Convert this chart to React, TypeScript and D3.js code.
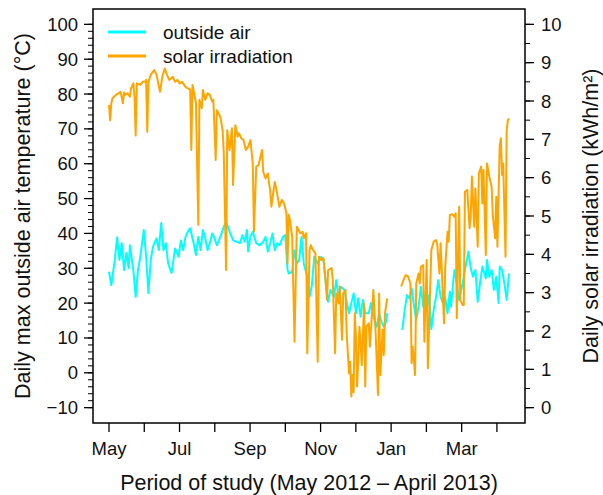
import React from "react";
import * as d3 from "d3";

// Month labels (study runs May 2012 – April 2013); only every second one is printed
const monthNames = ["May", "Jun", "Jul", "Aug", "Sep", "Oct", "Nov", "Dec", "Jan", "Feb", "Mar", "Apr"];
const tempTicks = [-10, 0, 10, 20, 30, 40, 50, 60, 70, 80, 90, 100];
const solarTicks = [0, 1, 2, 3, 4, 5, 6, 7, 8, 9, 10];

// Daily max outside air temperature (°C), day index from 1 May 2012
const tempDays = [
  0, 2, 5, 7, 9, 11, 13, 15, 17, 18, 21, 23, 25, 27, 30, 32, 34, 36, 38, 41, 43, 45, 47, 49, 51, 54, 57, 60, 62, 64,
  66, 68, 70, 73, 75, 77, 79, 81, 83, 85, 87, 89, 91, 93, 96, 99, 101, 104, 107, 110, 113, 115, 117, 119, 120, 122,
  124, 127, 130, 133, 135, 137, 139, 141, 143, 145, 147, 150, 152, 154, 155, 158, 160, 162, 164, 166, 168, 171, 173,
  175, 177, 180, 183, 185, 187, 189, 191, 194, 196, 198, 200, 203, 205, 207, 209, 211, 213, 215, 217, 219, 221, 224,
  226, 228, 231, 233, 235, 237, 239, 240,
  253, 255, 257, 259, 261, 263, 265, 267, 269, 271, 274, 276, 278, 280, 282, 284, 286, 288, 290, 292, 294, 295, 297,
  298, 300, 302, 305, 307, 310, 312, 314, 316, 318, 320, 322, 325, 326, 328, 330, 332, 334, 336, 337, 339, 341, 343, 345,
];
const tempValues = [
  29, 25.2, 32.4, 38.9, 32.4, 37.2, 29.5, 34.4, 30, 36.6, 29.5, 21.8, 29.5, 33.3, 41, 33.3, 22.9, 32.4, 36.2, 38.6,
  35.2, 43, 35.2, 37.2, 31.4, 28.7, 35.7, 33.3, 38, 35.2,
  39, 40.5, 41.5, 37.2, 33.8, 39, 35.2, 41, 38.6, 35.2, 37.2, 40, 38.6, 36.6, 39, 41.9, 43.4, 40.5, 38.1, 37.6, 37.2,
  39.5, 37.6, 41, 34.8, 39,
  40.5, 37.2, 36.6, 37.6, 39, 34.8, 37.2, 40, 35.2, 37.2, 36.6, 39, 39.5, 29.5, 28.5, 29, 35.2, 31.4, 32.4, 39, 31.4,
  27.6, 21.8,
  25.2, 33.3, 31.4, 33.3, 32.4, 25.7, 20.4, 23.8, 21.8, 26.6, 21.8, 24.7, 23.8, 20.4, 17.1, 20, 22.8, 17.1, 21.4, 16.1,
  20.9, 17.1, 17.1,
  20, 16.1, 13.2, 17.1, 14.7, 13.2, 14.7, 17.1,
  12.3, 18, 22.3, 21.4, 24.2, 19.4, 15.1, 19, 24.7, 19, 18, 22.3, 12.6, 18, 21.6, 26.6, 21.8, 20, 21.4, 17.1, 23.3, 19,
  26.6,
  29.5, 25.7, 20.9, 25.7, 29.5, 34.8, 30, 27.6, 29.5, 20.4, 25.7, 30.5, 27.1, 32.4, 27.6, 29.5, 23.8, 27.6, 20, 30.5,
  29.5, 25.7, 20.9, 28.5,
];

// Daily solar irradiation (kWh/m²), same day index
const solarDays = [
  0, 1, 2, 3, 6, 8, 10, 12, 13, 14, 16, 18, 19, 21, 22, 23, 24, 27, 29, 31, 32, 33, 34, 36, 39, 41, 44, 46, 48, 50, 52,
  55, 57, 59, 61, 63, 66, 68, 70, 71, 72, 74, 75, 77, 78, 80, 81, 83, 85, 87, 89, 90, 92, 93, 96, 98, 99, 101, 102, 104,
  106, 107, 109, 111, 112, 114, 116, 118, 120, 122, 124, 125, 127, 129, 130, 132, 133, 135, 137, 138, 139, 140, 143, 145,
  147, 149, 151, 153, 154, 155, 156, 158, 160, 162, 165, 167, 168, 170, 171, 173, 174, 176, 178, 180, 181, 183, 185, 187,
  188, 189, 192, 193, 195, 196, 198, 199, 201, 202, 204, 205, 207, 208, 209, 210, 211, 212, 213, 214, 216, 217, 218,
  220, 221, 222, 224, 225, 227, 228, 230, 232, 233, 234, 236, 237, 238, 240,
  252, 254, 256, 258, 260, 261, 262, 264, 265, 267, 268, 269, 271, 272, 274, 275, 277, 278, 280, 282, 283, 285, 286, 289,
  290, 292, 293, 294, 296, 298, 299, 300, 302, 303, 305, 306, 307, 309, 311, 312, 313, 315, 316, 318, 319, 321, 322, 323,
  325, 326, 328, 330, 331, 333, 334, 335, 337, 338, 339, 340, 342, 343, 344, 345,
];
const solarValues = [
  7.9, 7.5, 7.94, 8.07, 8.16, 8.2, 8.24, 7.94, 8.22, 8.16, 8.2, 8.11, 8.33, 8.46, 8.11, 7.1, 8.46, 8.42, 8.5, 8.5, 8.55,
  7.2, 8.5, 8.68, 8.81, 8.68, 8.24, 8.63, 8.85, 8.68, 8.55,
  8.63, 8.5, 8.55, 8.46, 8.5, 8.37, 8.33, 8.3, 6.72, 8.42, 8.11, 7.94, 4.77, 8.03, 7.81, 8.29, 8.03, 8.2, 8.16, 7.98,
  8.03, 6.46, 7.76, 7.59, 7.24, 6.64, 3.59, 7.24, 6.72,
  7.29, 5.81, 7.37, 7.07, 7.16, 7.03, 6.98, 6.72, 6.81, 6.98, 6.37, 4.59, 6.29, 6.33, 6.46, 6.72, 6.16, 5.98, 6.11, 5.85,
  5.68, 5.24, 5.89, 5.59,
  5.24, 5.42, 5.33, 5.07, 3.77, 5.03, 4.9, 4.46, 1.72, 4.72, 4.55, 4.59, 4.42, 4.55, 1.42, 4.11, 4.24, 4.11, 4.03, 1.2,
  3.94, 3.85, 3.9, 3.24,
  2.81, 3.59, 3.64, 3.33, 1.42, 2.98, 2.72, 3.16, 1.77, 2.98, 3.07, 1.94, 0.9, 1.2, 0.29, 0.85, 0.4, 2.46, 1.85, 0.55,
  2.11, 1.68, 1.11,
  2.72, 0.55, 2.11, 2.2, 1.59, 2.55, 3.07, 1.94, 0.33, 2.98, 0.85, 2.03, 1.37, 2.46, 2.85,
  3.16, 3.33, 3.46, 3.42, 3.24, 1.16, 1.59, 0.85, 3.24, 3.5, 3.24, 3.68, 3.72, 1.72, 3.85, 1.03, 3.07, 4.11, 4.33, 4.37,
  4.29, 3.5, 4.29, 2.2,
  3.68, 4.59, 4.33, 5.03, 5.05, 4.98, 5.07, 2.33, 5.24, 2.81, 2.68, 2.68, 5.63, 5.68, 4.68, 4.98, 6.03, 4.72, 5.72, 4.2,
  6.11, 6.29, 5.33, 6.2,
  3.98, 6.37, 6.03, 5.76, 5.03, 4.42, 5.5, 4.2, 6.85, 7.03, 6.07, 6.37, 3.94, 7.24, 7.5, 7.55,
];

const W = 603;
const H = 495;
const FONT = "'Liberation Sans', Arial, Helvetica, sans-serif";
const TEMP_COLOR = "#00FFFF";
const SOLAR_COLOR = "#FFA500";

type Pt = [number, number];

// Split a daily series into runs, breaking where days are missing
function segments(days: number[], vals: number[]): Pt[][] {
  const out: Pt[][] = [];
  let cur: Pt[] = [];
  days.forEach((d, i) => {
    if (cur.length && d - days[i - 1] > 6) {
      out.push(cur);
      cur = [];
    }
    cur.push([d, vals[i]]);
  });
  if (cur.length) out.push(cur);
  return out;
}

export default function App() {
  const box = { left: 93, top: 9, right: 525, bottom: 423 };
  const lastDay = 345;
  const pad = lastDay * 0.04;

  const x = d3.scaleLinear().domain([-pad, lastDay + pad]).range([box.left, box.right]);
  const yT = d3.scaleLinear().domain([-14.4, 104.4]).range([box.bottom, box.top]);
  const yS = d3.scaleLinear().domain([-0.4, 10.4]).range([box.bottom, box.top]);

  const tempLine = d3
    .line<Pt>()
    .x((d) => x(d[0]))
    .y((d) => yT(d[1]));
  const solarLine = d3
    .line<Pt>()
    .x((d) => x(d[0]))
    .y((d) => yS(d[1]));

  const tempSegs = segments(tempDays, tempValues);
  const solarSegs = segments(solarDays, solarValues);

  const monthPos = monthNames.map((_, m) => (m * 365) / 12);
  const tempMinor = d3.range(-10, 101, 2);
  const solarMinor = d3.range(0, 10.01, 0.5);

  const tickFont = 18.5;
  const titleFont = 21.5;

  return (
    <svg
      width={W}
      height={H}
      style={{ position: "fixed", left: 0, top: 0, background: "#fff" }}
      fontFamily={FONT}
    >
      <rect width={W} height={H} fill="#fff" />

      {/* series */}
      {tempSegs.map((s, i) => (
        <path key={"t" + i} d={tempLine(s) || ""} fill="none" stroke={TEMP_COLOR} strokeWidth={2} strokeLinejoin="round" />
      ))}
      {solarSegs.map((s, i) => (
        <path key={"s" + i} d={solarLine(s) || ""} fill="none" stroke={SOLAR_COLOR} strokeWidth={2} strokeLinejoin="round" />
      ))}

      {/* frame */}
      <rect
        x={box.left}
        y={box.top}
        width={box.right - box.left}
        height={box.bottom - box.top}
        fill="none"
        stroke="#000"
        strokeWidth={1.5}
      />

      {/* left axis */}
      {tempMinor.map((v) => (
        <line key={"tm" + v} x1={box.left - 5} x2={box.left} y1={yT(v)} y2={yT(v)} stroke="#000" strokeWidth={1} />
      ))}
      {tempTicks.map((v) => (
        <g key={"tt" + v}>
          <line x1={box.left - 9} x2={box.left} y1={yT(v)} y2={yT(v)} stroke="#000" strokeWidth={1.3} />
          <text
            x={box.left - 15}
            y={yT(v)}
            textAnchor="end"
            dominantBaseline="central"
            fontSize={tickFont}
            fill="#111"
          >
            {v < 0 ? "\u2212" + Math.abs(v) : v}
          </text>
        </g>
      ))}

      {/* right axis */}
      {solarMinor.map((v) => (
        <line key={"sm" + v} x1={box.right} x2={box.right + 5} y1={yS(v)} y2={yS(v)} stroke="#000" strokeWidth={1} />
      ))}
      {solarTicks.map((v) => (
        <g key={"st" + v}>
          <line x1={box.right} x2={box.right + 9} y1={yS(v)} y2={yS(v)} stroke="#000" strokeWidth={1.3} />
          <text
            x={box.right + 16}
            y={yS(v)}
            textAnchor="start"
            dominantBaseline="central"
            fontSize={tickFont}
            fill="#111"
          >
            {v}
          </text>
        </g>
      ))}

      {/* bottom axis */}
      {monthPos.map((d, m) => (
        <g key={"mx" + m}>
          <line x1={x(d)} x2={x(d)} y1={box.bottom} y2={box.bottom + 9} stroke="#000" strokeWidth={1.3} />
          {m % 2 === 0 && (
            <text x={x(d)} y={455} textAnchor="middle" fontSize={tickFont} fill="#111">
              {monthNames[m]}
            </text>
          )}
        </g>
      ))}

      {/* axis titles */}
      <text
        x={(box.left + box.right) / 2}
        y={490}
        textAnchor="middle"
        fontSize={titleFont}
        fill="#111"
      >
        Period of study (May 2012 – April 2013)
      </text>
      <text
        transform={`translate(30,${(box.top + box.bottom) / 2}) rotate(-90)`}
        textAnchor="middle"
        fontSize={titleFont}
        fill="#111"
      >
        Daily max outside air temperature (°C)
      </text>
      <text
        transform={`translate(598,${(box.top + box.bottom) / 2}) rotate(-90)`}
        textAnchor="middle"
        fontSize={titleFont}
        fill="#111"
      >
        Daily solar irradiation (kWh/m²)
      </text>

      {/* legend */}
      <line x1={108} x2={146} y1={32} y2={32} stroke={TEMP_COLOR} strokeWidth={3} />
      <text x={163} y={32} dominantBaseline="central" fontSize={19} fill="#111">
        outside air
      </text>
      <line x1={108} x2={146} y1={56} y2={56} stroke={SOLAR_COLOR} strokeWidth={3} />
      <text x={163} y={56} dominantBaseline="central" fontSize={19} fill="#111">
        solar irradiation
      </text>
    </svg>
  );
}
